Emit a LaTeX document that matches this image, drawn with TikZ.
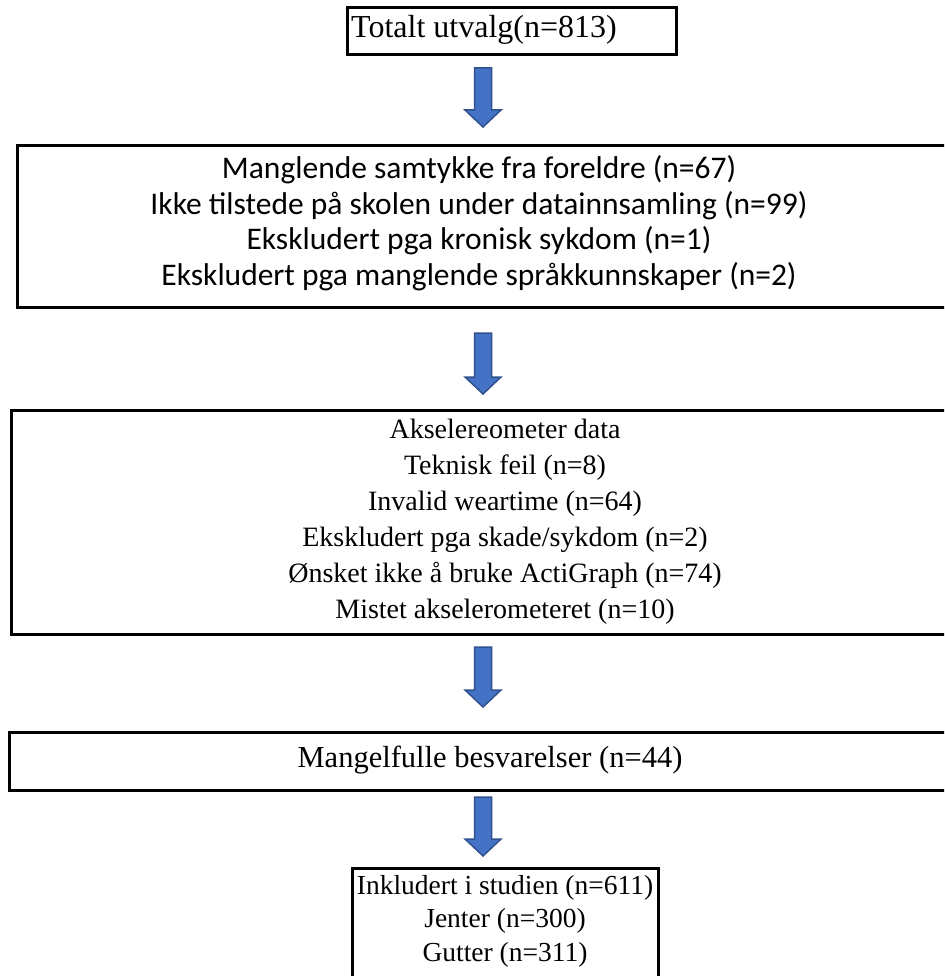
\documentclass[tikz,border=0pt]{standalone}
\usepackage{fontspec}
\setmainfont{Liberation Serif}
\newfontfamily\calfont{Carlito}
\definecolor{arrowblue}{HTML}{4472C4}
\definecolor{arrowedge}{HTML}{2F528F}
\begin{document}
\begin{tikzpicture}[x=1pt,y=-1pt,
  boxline/.style={draw=black, line width=3pt},
  tnr/.style={font=\fontsize{28}{36}\selectfont, align=center, inner sep=0pt},
  calt/.style={font=\calfont\fontsize{31.5}{35.5}\selectfont, align=center, inner sep=0pt},
  barrow/.style={fill=arrowblue, draw=arrowedge, line width=1.5pt, line join=miter}]
\useasboundingbox (0,0) rectangle (944,976);
\clip (0,0) rectangle (944,976);
% boxes
\draw[boxline] (347,8) rectangle (676,55);
\draw[boxline] (17,146) rectangle (960,307);
\draw[boxline] (11,410) rectangle (960,634);
\draw[boxline] (9,732) rectangle (960,790);
\draw[boxline] (352,868) rectangle (658,990);
% texts
\node[tnr, font=\fontsize{32}{36}\selectfont] (t1) at (484,30) {Totalt utvalg(n=813)};
\node[calt] (t2) at (479,223) {Manglende samtykke fra foreldre (n=67)\\Ikke tilstede på skolen under datainnsamling (n=99)\\Ekskludert pga kronisk sykdom (n=1)\\Ekskludert pga manglende språkkunnskaper (n=2)};
\node[tnr] (t3) at (505,522) {Akselereometer data\\Teknisk feil (n=8)\\Invalid weartime (n=64)\\Ekskludert pga skade/sykdom (n=2)\\Ønsket ikke å bruke ActiGraph (n=74)\\Mistet akselerometeret (n=10)};
\node[tnr, font=\fontsize{30.5}{36}\selectfont] (t4) at (490,760) {Mangelfulle besvarelser (n=44)};
\node[tnr, font=\fontsize{27.5}{33.5}\selectfont] (t5) at (505,921) {Inkludert i studien (n=611)\\Jenter (n=300)\\Gutter (n=311)};
% block arrows
\newcommand\blockarrow[2]{%
  \draw[barrow] (474.5,#1) -- (491.5,#1) -- (491.5,#2-17) -- (501,#2-17) -- (483,#2) -- (465,#2-17) -- (474.5,#2-17) -- cycle;}
\blockarrow{68}{127}
\blockarrow{333}{394}
\blockarrow{647}{707}
\blockarrow{797}{856}
\end{tikzpicture}
\end{document}
